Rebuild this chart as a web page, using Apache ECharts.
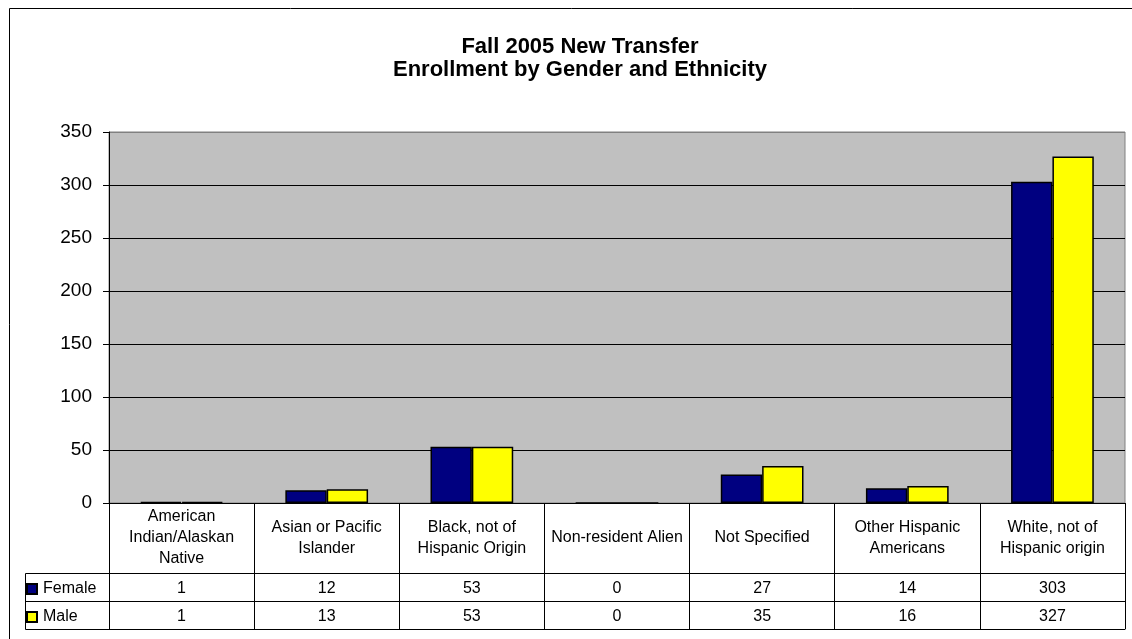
<!DOCTYPE html>
<html>
<head>
<meta charset="utf-8">
<script src="https://cdn.jsdelivr.net/npm/echarts@6/dist/echarts.min.js"></script>
<style>
  html, body { margin: 0; padding: 0; background: #fff; }
  #chart { width: 1132px; height: 639px; }
</style>
</head>
<body>
<div id="chart"></div>
<script>
var categories = [
  'American Indian/Alaskan Native',
  'Asian or Pacific Islander',
  'Black, not of Hispanic Origin',
  'Non-resident Alien',
  'Not Specified',
  'Other Hispanic Americans',
  'White, not of Hispanic origin'
];
var female = [1, 12, 53, 0, 27, 14, 303];
var male = [1, 13, 53, 0, 35, 16, 327];
var yTicks = [0, 50, 100, 150, 200, 250, 300, 350];

var FONT = '"Liberation Sans", Arial, sans-serif';
var TABLE_SIZE = 16;
var chart = echarts.init(document.getElementById('chart'));

// wrap header text on spaces only, like the spreadsheet table does
var measureCtx = document.createElement('canvas').getContext('2d');
function wrapWords(text, maxWidth) {
  measureCtx.font = TABLE_SIZE + 'px ' + FONT;
  var words = text.split(' ');
  var lines = [];
  var line = '';
  words.forEach(function (w) {
    var test = line ? line + ' ' + w : w;
    if (line && measureCtx.measureText(test).width > maxWidth) {
      lines.push(line);
      line = w;
    } else {
      line = test;
    }
  });
  if (line) lines.push(line);
  return lines.join('\n');
}

// row axes for the data table under the plot
function rowAxis(offset, values) {
  return {
    type: 'category',
    data: categories,
    position: 'bottom',
    offset: offset,
    axisLine: { show: true, lineStyle: { color: '#000', width: 1 } },
    axisTick: { show: false },
    axisLabel: {
      show: !!values,
      margin: 16,
      verticalAlign: 'middle',
      color: '#000',
      fontFamily: FONT,
      fontSize: TABLE_SIZE,
      interval: 0,
      formatter: function (v, i) { return values ? String(values[i]) : ''; }
    }
  };
}

var option = {
  animation: false,
  backgroundColor: '#fff',
  title: {
    text: 'Fall 2005 New Transfer\nEnrollment by Gender and Ethnicity',
    left: 575,
    textAlign: 'center',
    top: 30,
    textStyle: {
      fontFamily: FONT,
      fontSize: 22,
      fontWeight: 'bold',
      color: '#000',
      lineHeight: 23
    }
  },
  legend: {
    orient: 'vertical',
    left: 21,
    top: 576,
    itemWidth: 10,
    itemHeight: 10,
    itemGap: 12,
    icon: 'rect',
    textStyle: { fontFamily: FONT, fontSize: TABLE_SIZE, color: '#000', padding: [0, 0, 0, 1] },
    data: ['Female', 'Male']
  },
  grid: {
    left: 109,
    right: 7,
    top: 132,
    bottom: 136,
    show: true,
    backgroundColor: '#C0C0C0',
    borderColor: '#808080',
    borderWidth: 1
  },
  xAxis: [
    {
      type: 'category',
      data: categories,
      position: 'bottom',
      axisLine: { show: true, lineStyle: { color: '#000', width: 1 } },
      axisTick: { show: true, length: 126, lineStyle: { color: '#000', width: 1 } },
      axisLabel: {
        interval: 0,
        margin: 35,
        verticalAlign: 'middle',
        color: '#000',
        fontFamily: FONT,
        fontSize: TABLE_SIZE,
        lineHeight: 21,
        align: 'center',
        formatter: function (v) { return wrapWords(v, 138); }
      }
    },
    rowAxis(70, female),
    rowAxis(98, male),
    rowAxis(126, null)
  ],
  yAxis: {
    type: 'value',
    min: yTicks[0],
    max: yTicks[yTicks.length - 1],
    interval: 50,
    axisLine: { show: true, lineStyle: { color: '#000', width: 1 } },
    axisTick: { show: true, length: 6, lineStyle: { color: '#000' } },
    axisLabel: { margin: 17, color: '#000', fontFamily: FONT, fontSize: 19 },
    splitLine: {
      show: true,
      lineStyle: {
        color: ['#000', '#000', '#000', '#000', '#000', '#000', '#000', '#808080'],
        width: 1
      }
    }
  },
  series: [
    {
      name: 'Female',
      type: 'bar',
      data: female,
      barGap: '0%',
      barCategoryGap: '43%',
      itemStyle: { color: '#000080', borderColor: '#000', borderWidth: 1.5 }
    },
    {
      name: 'Male',
      type: 'bar',
      data: male,
      itemStyle: { color: '#FFFF00', borderColor: '#000', borderWidth: 1.5 }
    }
  ],
  graphic: [
    // outer chart frame (cut by the picture edge on right/bottom)
    { type: 'rect', shape: { x: 9.5, y: 8.5, width: 1140, height: 660 },
      style: { fill: null, stroke: '#000', lineWidth: 1 }, z: 100 },
    // legend column of the data table
    { type: 'polyline', shape: { points: [[109, 573.5], [25.5, 573.5], [25.5, 629.5], [109, 629.5]] },
      style: { fill: null, stroke: '#000', lineWidth: 1 }, z: 100 },
    { type: 'line', shape: { x1: 25.5, y1: 601.5, x2: 109, y2: 601.5 },
      style: { stroke: '#000', lineWidth: 1 }, z: 100 }
  ]
};

chart.setOption(option);
</script>
</body>
</html>
